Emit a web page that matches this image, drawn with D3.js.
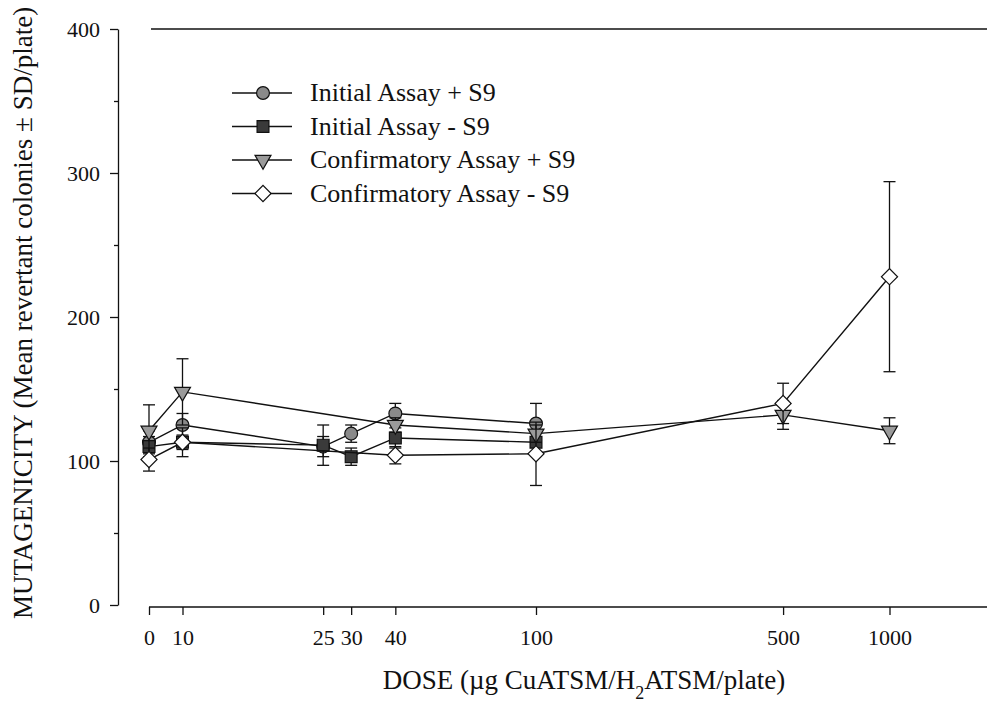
<!DOCTYPE html>
<html>
<head>
<meta charset="utf-8">
<title>Mutagenicity</title>
<script src="https://cdnjs.cloudflare.com/ajax/libs/d3/7.8.5/d3.min.js"></script>
<style>
  body { margin: 0; background: #fff; }
  text { font-family: "Liberation Serif", "Times New Roman", serif; fill: #111; }
  .axis path, .axis line { stroke: #111; stroke-width: 1.3; }
  .series-line { fill: none; stroke: #111; stroke-width: 1.4; }
  .err { stroke: #111; stroke-width: 1.3; }
</style>
</head>
<body>
<svg width="987" height="714"></svg>
<script>
// dose ticks on the broken log axis
var doseTicks = [0, 10, 25, 30, 40, 100, 500, 1000];
var yTicks = [0, 100, 200, 300, 400];
var yMinor = [50, 150, 250, 350];

var initialDoses = [0, 10, 25, 30, 40, 100];
var confirmDoses = [0, 10, 40, 100, 500, 1000];

var initPlusMean  = [113, 125, 110, 119, 133, 126];
var initPlusSD    = [8, 8, 7, 6, 7, 14];
var initMinusMean = [110, 113, 111, 103, 116, 113];
var initMinusSD   = [7, 5, 14, 6, 7, 8];
var confPlusMean  = [121, 148, 125, 119, 132, 121];
var confPlusSD    = [18, 23, 5, 6, 10, 9];
var confMinusMean = [101, 113, 104, 105, 140, 228];
var confMinusSD   = [8, 10, 6, 22, 14, 66];

var seriesNames = ["Initial Assay + S9", "Initial Assay - S9",
                   "Confirmatory Assay + S9", "Confirmatory Assay - S9"];

var svg = d3.select("svg");

// 10..1000 on a log scale, 0 placed by itself to the left
var logX = d3.scaleLog().domain([10, 1000]).range([182.5, 889.5]);
var zeroX = 149;
var x = d3.scaleLinear()
    .domain(doseTicks)
    .range(doseTicks.map(function(d) { return d === 0 ? zeroX : logX(d); }));

var y = d3.scaleLinear().domain([0, 400]).range([605, 29]);

// y axis
svg.append("g")
    .attr("class", "axis")
    .attr("transform", "translate(118,0)")
    .call(d3.axisLeft(y).tickValues(yTicks).tickSize(8).tickSizeOuter(0).tickPadding(10))
    .call(function(g) { g.selectAll("text").style("font-size", "22px"); });

svg.append("g")
    .attr("class", "axis")
    .attr("transform", "translate(118,0)")
    .call(d3.axisLeft(y).tickValues(yMinor).tickSize(4).tickFormat(""))
    .call(function(g) { g.select(".domain").remove(); });

// x axis
var xAxis = svg.append("g")
    .attr("class", "axis")
    .attr("transform", "translate(0,607)")
    .call(d3.axisBottom(x).tickValues(doseTicks).tickFormat(d3.format("d"))
      .tickSize(8).tickSizeOuter(0).tickPadding(14))
    .call(function(g) { g.select(".domain").remove(); g.selectAll("text").style("font-size", "22px"); });

xAxis.append("line")
    .attr("x1", zeroX).attr("x2", 987)
    .attr("y1", 0).attr("y2", 0)
    .attr("stroke", "#111").attr("stroke-width", 1.3);

// top frame line
svg.append("line")
    .attr("x1", 151).attr("x2", 987)
    .attr("y1", y(400)).attr("y2", y(400))
    .attr("stroke", "#111").attr("stroke-width", 1.3);

// axis titles
svg.append("text")
    .attr("x", 584).attr("y", 689)
    .attr("text-anchor", "middle")
    .style("font-size", "27px")
    .html('DOSE (\u00b5g CuATSM/H<tspan baseline-shift="sub" font-size="18px">2</tspan>ATSM/plate)');

svg.append("text")
    .attr("transform", "translate(32,313) rotate(-90)")
    .attr("text-anchor", "middle")
    .style("font-size", "27px")
    .text("MUTAGENICITY (Mean revertant colonies \u00b1 SD/plate)");

// marker shapes
var shapes = [
  { sym: d3.symbolCircle, size: 130, rot: 0, fill: "#8a8a8a" },
  { sym: d3.symbolSquare, size: 140, rot: 0, fill: "#3a3a3a" },
  { sym: d3.symbolTriangle, size: 110, rot: 180, fill: "#9a9a9a" },
  { sym: d3.symbolSquare, size: 130, rot: 45, fill: "#ffffff" }
];

var series = [
  { doses: initialDoses, mean: initPlusMean, sd: initPlusSD },
  { doses: initialDoses, mean: initMinusMean, sd: initMinusSD },
  { doses: confirmDoses, mean: confPlusMean, sd: confPlusSD },
  { doses: confirmDoses, mean: confMinusMean, sd: confMinusSD }
];

var line = d3.line()
    .x(function(d) { return x(d.dose); })
    .y(function(d) { return y(d.mean); });

series.forEach(function(s, i) {
  var pts = s.doses.map(function(d, j) { return { dose: d, mean: s.mean[j], sd: s.sd[j] }; });
  var g = svg.append("g");

  g.append("path").datum(pts).attr("class", "series-line").attr("d", line);

  var eb = g.selectAll(".eb").data(pts).enter().append("g").attr("class", "err");
  eb.append("line")
      .attr("x1", function(d) { return x(d.dose); }).attr("x2", function(d) { return x(d.dose); })
      .attr("y1", function(d) { return y(d.mean - d.sd); }).attr("y2", function(d) { return y(d.mean + d.sd); });
  [-1, 1].forEach(function(sign) {
    eb.append("line")
        .attr("x1", function(d) { return x(d.dose) - 6; }).attr("x2", function(d) { return x(d.dose) + 6; })
        .attr("y1", function(d) { return y(d.mean + sign * d.sd); })
        .attr("y2", function(d) { return y(d.mean + sign * d.sd); });
  });

  var sh = shapes[i];
  g.selectAll(".mk").data(pts).enter().append("path")
      .attr("d", d3.symbol().type(sh.sym).size(sh.size))
      .attr("transform", function(d) { return "translate(" + x(d.dose) + "," + y(d.mean) + ") rotate(" + sh.rot + ")"; })
      .attr("fill", sh.fill)
      .attr("stroke", "#111")
      .attr("stroke-width", 1.2);
});

// legend
var legend = svg.append("g").attr("transform", "translate(232,93)");
seriesNames.forEach(function(name, i) {
  var row = legend.append("g").attr("transform", "translate(0," + (i * 33.5) + ")");
  row.append("line").attr("x1", 0).attr("x2", 60).attr("stroke", "#111").attr("stroke-width", 1.4);
  var sh = shapes[i];
  row.append("path")
      .attr("d", d3.symbol().type(sh.sym).size(sh.size))
      .attr("transform", "translate(31,0) rotate(" + sh.rot + ")")
      .attr("fill", sh.fill).attr("stroke", "#111").attr("stroke-width", 1.2);
  row.append("text")
      .attr("x", 78).attr("y", 8)
      .style("font-size", "26px")
      .text(name);
});
</script>
</body>
</html>
